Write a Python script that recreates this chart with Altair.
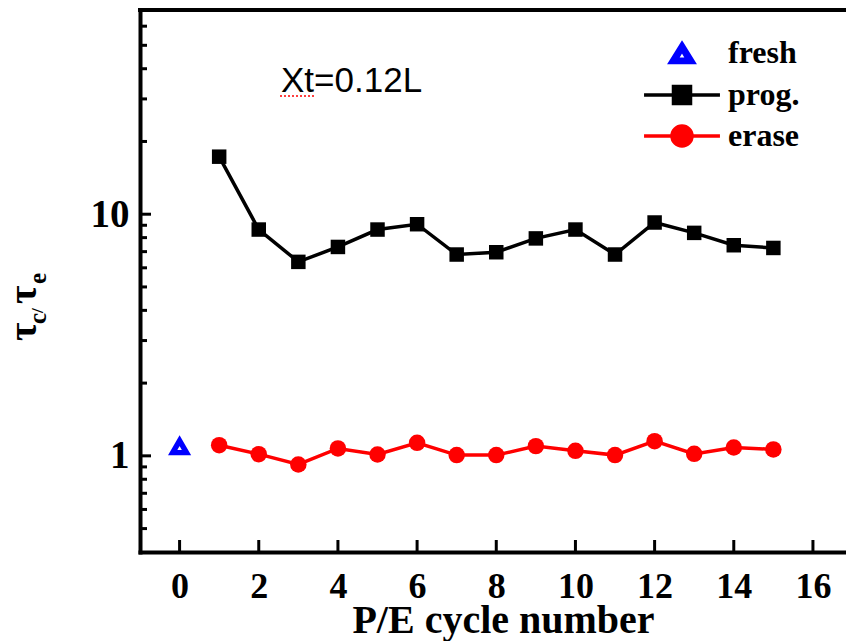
import altair as alt
import pandas as pd

# P/E cycle ratios tau_c / tau_e at Xt = 0.12L
cycles = list(range(1, 16))
prog = [17.3, 8.64, 6.35, 7.32, 8.64, 9.09, 6.81, 6.96, 7.94, 8.64, 6.81, 9.24, 8.37, 7.44, 7.25]
erase = [1.107, 1.016, 0.921, 1.073, 1.013, 1.132, 1.007, 1.007, 1.097, 1.049, 1.007, 1.15, 1.019, 1.083, 1.063]
fresh_cycle = [0]
fresh = [1.10]

series_names = ["fresh", "prog.", "erase"]
series_colors = ["#0000ff", "#000000", "#ff0000"]

# axis tick positions
y_major = [1, 10]
y_minor = [0.5, 0.6, 0.7, 0.8, 0.9, 2, 3, 4, 5, 6, 7, 8, 9, 20, 30, 40, 50, 60]
x_major = list(range(0, 17, 2))

W, H = 706, 542
SERIF = "Liberation Serif"
SANS = "Liberation Sans"

rows = (
    [{"series": "fresh", "cycle": c, "ratio": v} for c, v in zip(fresh_cycle, fresh)]
    + [{"series": "prog.", "cycle": c, "ratio": v} for c, v in zip(cycles, prog)]
    + [{"series": "erase", "cycle": c, "ratio": v} for c, v in zip(cycles, erase)]
)
df = pd.DataFrame(rows)

x_scale = alt.Scale(domain=[-1, 16.835], nice=False, zero=False)
y_scale = alt.Scale(type="log", domain=[0.4, 70], nice=False)

x_axis = alt.Axis(
    values=x_major, ticks=False, grid=False, domainWidth=4, domainColor="black",
    domainCap="square", labelFont=SERIF, labelFontWeight="bold", labelFontSize=36,
    labelColor="black", labelPadding=17, labelFlush=False, labelOverlap=False,
    title="P/E cycle number", titleFont=SERIF, titleFontWeight="bold", titleFontSize=40,
    titleColor="black", titleX=363, titleY=80, titleAlign="center",
    titleBaseline="alphabetic",
)
y_axis = alt.Axis(
    values=y_major, format="~g", ticks=False, grid=False, domainWidth=4,
    domainColor="black", domainCap="square", labelFont=SERIF, labelFontWeight="bold",
    labelFontSize=39, labelColor="black", labelPadding=11, labelFlush=False,
    labelOverlap=False, title=None,
)

X = alt.X("cycle:Q", scale=x_scale, axis=x_axis)
Y = alt.Y("ratio:Q", scale=y_scale, axis=y_axis)

base = alt.Chart(df)

prog_line = base.transform_filter(alt.datum.series == "prog.").mark_line(
    color="black", strokeWidth=3.5).encode(x=X, y=Y)
erase_line = base.transform_filter(alt.datum.series == "erase").mark_line(
    color="#ff0000", strokeWidth=3.5).encode(x=X, y=Y)
prog_pts = base.transform_filter(alt.datum.series == "prog.").mark_point(
    shape="square", filled=True, opacity=1, color="black", size=210).encode(x=X, y=Y)
erase_pts = base.transform_filter(alt.datum.series == "erase").mark_point(
    shape="circle", filled=True, opacity=1, color="#ff0000", size=272).encode(x=X, y=Y)

# hollow triangle: outer outline with a small reversed inner path (nonzero fill leaves a hole)
tri_path = ("M0,-0.26L0.30,0.26L-0.30,0.26Z"
            "M0,-0.053L-0.121,0.157L0.121,0.157Z")
fresh_pts = base.transform_filter(alt.datum.series == "fresh").mark_point(
    shape=tri_path, filled=True, opacity=1, color="#0000ff", stroke="#0000ff",
    strokeWidth=2, size=4300).encode(x=X, y=Y)

# legend symbols: line through a marker
sq_path = "M-1.65,0H1.65M-0.37,-0.37H0.37V0.37H-0.37Z"
circ_path = ("M-1.65,0H1.65M-0.435,0A0.435,0.435 0 1,0 0.435,0"
             "A0.435,0.435 0 1,0 -0.435,0Z")
leg_tri = ("M0,-0.413L0.513,0.413L-0.513,0.413Z"
           "M0,-0.127L-0.23,0.27L0.23,0.27Z")
legend_layer = base.transform_filter("datum.ratio < 0").mark_point(
    filled=True, opacity=1).encode(
    color=alt.Color("series:N", scale=alt.Scale(domain=series_names, range=series_colors),
                    title=None),
    stroke=alt.Stroke("series:N", scale=alt.Scale(domain=series_names, range=series_colors),
                      title=None),
    shape=alt.Shape("series:N", scale=alt.Scale(domain=series_names,
                                                range=[leg_tri, sq_path, circ_path]),
                    title=None),
)

# inward axis ticks
ytick_major = alt.Chart(pd.DataFrame({"ratio": y_major})).mark_rule(
    color="black", strokeWidth=3).encode(x=alt.value(0), x2=alt.value(11), y=Y)
ytick_minor = alt.Chart(pd.DataFrame({"ratio": y_minor})).mark_rule(
    color="black", strokeWidth=3).encode(x=alt.value(0), x2=alt.value(7), y=Y)
xtick_major = alt.Chart(pd.DataFrame({"cycle": x_major})).mark_rule(
    color="black", strokeWidth=3).encode(x=X, y=alt.value(H), y2=alt.value(H - 12))

# top frame line
top_line = alt.Chart(pd.DataFrame({"k": [0]})).mark_rule(
    color="black", strokeWidth=4, strokeCap="square").encode(
    x=alt.value(0), x2=alt.value(W), y=alt.value(0))


def label(txt, x, y, size, font=SERIF, weight="bold", angle=0, color="black"):
    return alt.Chart(pd.DataFrame({"t": [txt]})).mark_text(
        font=font, fontSize=size, fontWeight=weight, angle=angle, align="left",
        baseline="alphabetic", color=color).encode(
        text="t:N", x=alt.value(x), y=alt.value(y))


# y-axis title  tau_c / tau_e  (rotated, with subscripts)
ytitle = [
    label("τ", -104, 331, 40, angle=270),
    label("c", -94, 314, 25, angle=270),
    label("/", -97, 303, 17, angle=270),
    label("τ", -104, 294, 40, angle=270),
    label("e", -94, 274, 25, angle=270),
]

note = label("Xt=0.12L", 141, 82, 35, font=SANS, weight="normal")
squiggle = alt.Chart(pd.DataFrame({"k": [0]})).mark_rule(
    color="#ff0000", strokeWidth=1.5, strokeDash=[2, 2]).encode(
    x=alt.value(140), x2=alt.value(176), y=alt.value(86))

chart = alt.layer(
    prog_line, erase_line, prog_pts, erase_pts, fresh_pts, legend_layer,
    ytick_major, ytick_minor, xtick_major, top_line, note, squiggle, *ytitle,
).properties(
    width=W, height=H,
    autosize=alt.AutoSizeParams(type="none"),
    padding={"left": 140, "top": 10, "right": 0, "bottom": 89},
).configure_view(
    stroke=None
).configure_legend(
    orient="none", legendX=517, legendY=18, padding=0,
    labelFont=SERIF, labelFontWeight="bold", labelFontSize=32, labelColor="black",
    labelOffset=21, symbolSize=2116, symbolStrokeWidth=3.5, rowPadding=0,
    symbolOpacity=1,
)

chart.save("out.html", embed_options={"renderer": "svg", "actions": False})
